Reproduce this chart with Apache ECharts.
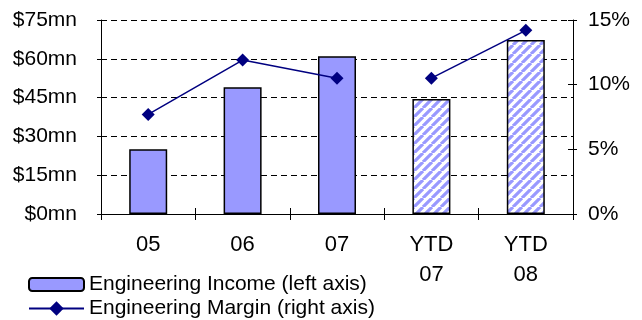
<!DOCTYPE html>
<html>
<head>
<meta charset="utf-8">
<script src="https://cdn.jsdelivr.net/npm/echarts@6/dist/echarts.min.js"></script>
<style>
  html, body { margin: 0; padding: 0; background: #fff; }
  #chart { width: 642px; height: 320px; }
</style>
</head>
<body>
<div id="chart"></div>
<script>
var categories = ['05', '06', '07', 'YTD\n07', 'YTD\n08'];
var income = [25, 49, 61, 44.5, 67.3];
var margin = [7.7, 11.9, 10.5, 10.5, 14.2];
var incomeTicks = [0, 15, 30, 45, 60, 75];
var marginTicks = [0, 5, 10, 15];

var FONT = 'Liberation Sans, Arial, sans-serif';
var INCOME_NAME = 'Engineering Income (left axis)';
var MARGIN_NAME = 'Engineering Margin (right axis)';

function isYtd(i) {
  return categories[i].indexOf('YTD') === 0;
}

// diagonal stripes for the year-to-date bars
function makeHatch() {
  var s = 9;
  var c = document.createElement('canvas');
  c.width = s;
  c.height = s;
  var ctx = c.getContext('2d');
  ctx.fillStyle = '#ffffff';
  ctx.fillRect(0, 0, s, s);
  ctx.strokeStyle = '#9999ff';
  ctx.lineWidth = 3.2;
  ctx.beginPath();
  for (var k = -s; k <= 2 * s; k += s) {
    ctx.moveTo(k, s);
    ctx.lineTo(k + s, 0);
  }
  ctx.stroke();
  return c;
}
var hatch = { image: makeHatch(), repeat: 'repeat' };

var chart = echarts.init(document.getElementById('chart'), null, { renderer: 'canvas' });

var axisLine = { show: true, lineStyle: { color: '#000', width: 1 } };
var yLabelStyle = { color: '#000', fontFamily: FONT, fontSize: 21 };
var xLabelStyle = { color: '#000', fontFamily: FONT, fontSize: 22 };
var legendText = { color: '#000', fontFamily: FONT, fontSize: 21 };

// margin line is broken between full years and YTD
function marginPart(ytd) {
  return margin.map(function (v, i) { return isYtd(i) === ytd ? v : '-'; });
}
function marginSeries(ytd) {
  return {
    name: MARGIN_NAME,
    type: 'line',
    yAxisIndex: 1,
    symbol: 'diamond',
    symbolSize: 13,
    lineStyle: { color: '#000080', width: 1.5 },
    itemStyle: { color: '#000080' },
    data: marginPart(ytd)
  };
}

chart.setOption({
  animation: false,
  grid: { left: 101, right: 69, top: 20, bottom: 106, containLabel: false },
  legend: [{
    left: 23,
    top: 269,
    itemWidth: 55,
    itemHeight: 13,
    textStyle: legendText,
    data: [INCOME_NAME]
  }, {
    left: 23,
    top: 293,
    itemWidth: 55,
    itemHeight: 18,
    textStyle: legendText,
    data: [MARGIN_NAME]
  }],
  xAxis: [{
    type: 'category',
    data: categories,
    axisLine: axisLine,
    axisTick: { show: true, length: 6, lineStyle: { color: '#000' } },
    axisLabel: Object.assign({ margin: 16, lineHeight: 30 }, xLabelStyle),
    splitLine: { show: false }
  }, {
    type: 'category',
    data: categories,
    position: 'bottom',
    axisLine: { show: false },
    axisTick: { show: true, inside: true, length: 6, lineStyle: { color: '#000' } },
    axisLabel: { show: false },
    splitLine: { show: false }
  }],
  yAxis: [{
    type: 'value',
    min: incomeTicks[0],
    max: incomeTicks[incomeTicks.length - 1],
    interval: 15,
    position: 'left',
    axisLine: axisLine,
    axisTick: { show: true, length: 4, lineStyle: { color: '#000' } },
    axisLabel: Object.assign({ margin: 24, formatter: function (v) { return '$' + v + 'mn'; } }, yLabelStyle),
    splitLine: { show: true, lineStyle: { color: '#000', type: [6, 4], width: 1 } }
  }, {
    type: 'value',
    min: marginTicks[0],
    max: marginTicks[marginTicks.length - 1],
    interval: 5,
    position: 'right',
    axisLine: axisLine,
    axisTick: { show: true, length: 4, lineStyle: { color: '#000' } },
    axisLabel: Object.assign({ margin: 15, formatter: '{value}%' }, yLabelStyle),
    splitLine: { show: false }
  }, {
    type: 'value',
    min: incomeTicks[0],
    max: incomeTicks[incomeTicks.length - 1],
    interval: 15,
    position: 'left',
    axisLine: { show: false },
    axisTick: { show: true, inside: true, length: 5, lineStyle: { color: '#000' } },
    axisLabel: { show: false },
    splitLine: { show: false }
  }, {
    type: 'value',
    min: marginTicks[0],
    max: marginTicks[marginTicks.length - 1],
    interval: 5,
    position: 'right',
    axisLine: { show: false },
    axisTick: { show: true, inside: true, length: 5, lineStyle: { color: '#000' } },
    axisLabel: { show: false },
    splitLine: { show: false }
  }],
  series: [{
    name: INCOME_NAME,
    type: 'bar',
    yAxisIndex: 0,
    barWidth: 38,
    itemStyle: { color: '#9999ff', borderColor: '#000', borderWidth: 1.5 },
    data: income.map(function (v, i) {
      return isYtd(i) ? { value: v, itemStyle: { color: hatch } } : v;
    })
  }, marginSeries(false), marginSeries(true)]
});
</script>
</body>
</html>
